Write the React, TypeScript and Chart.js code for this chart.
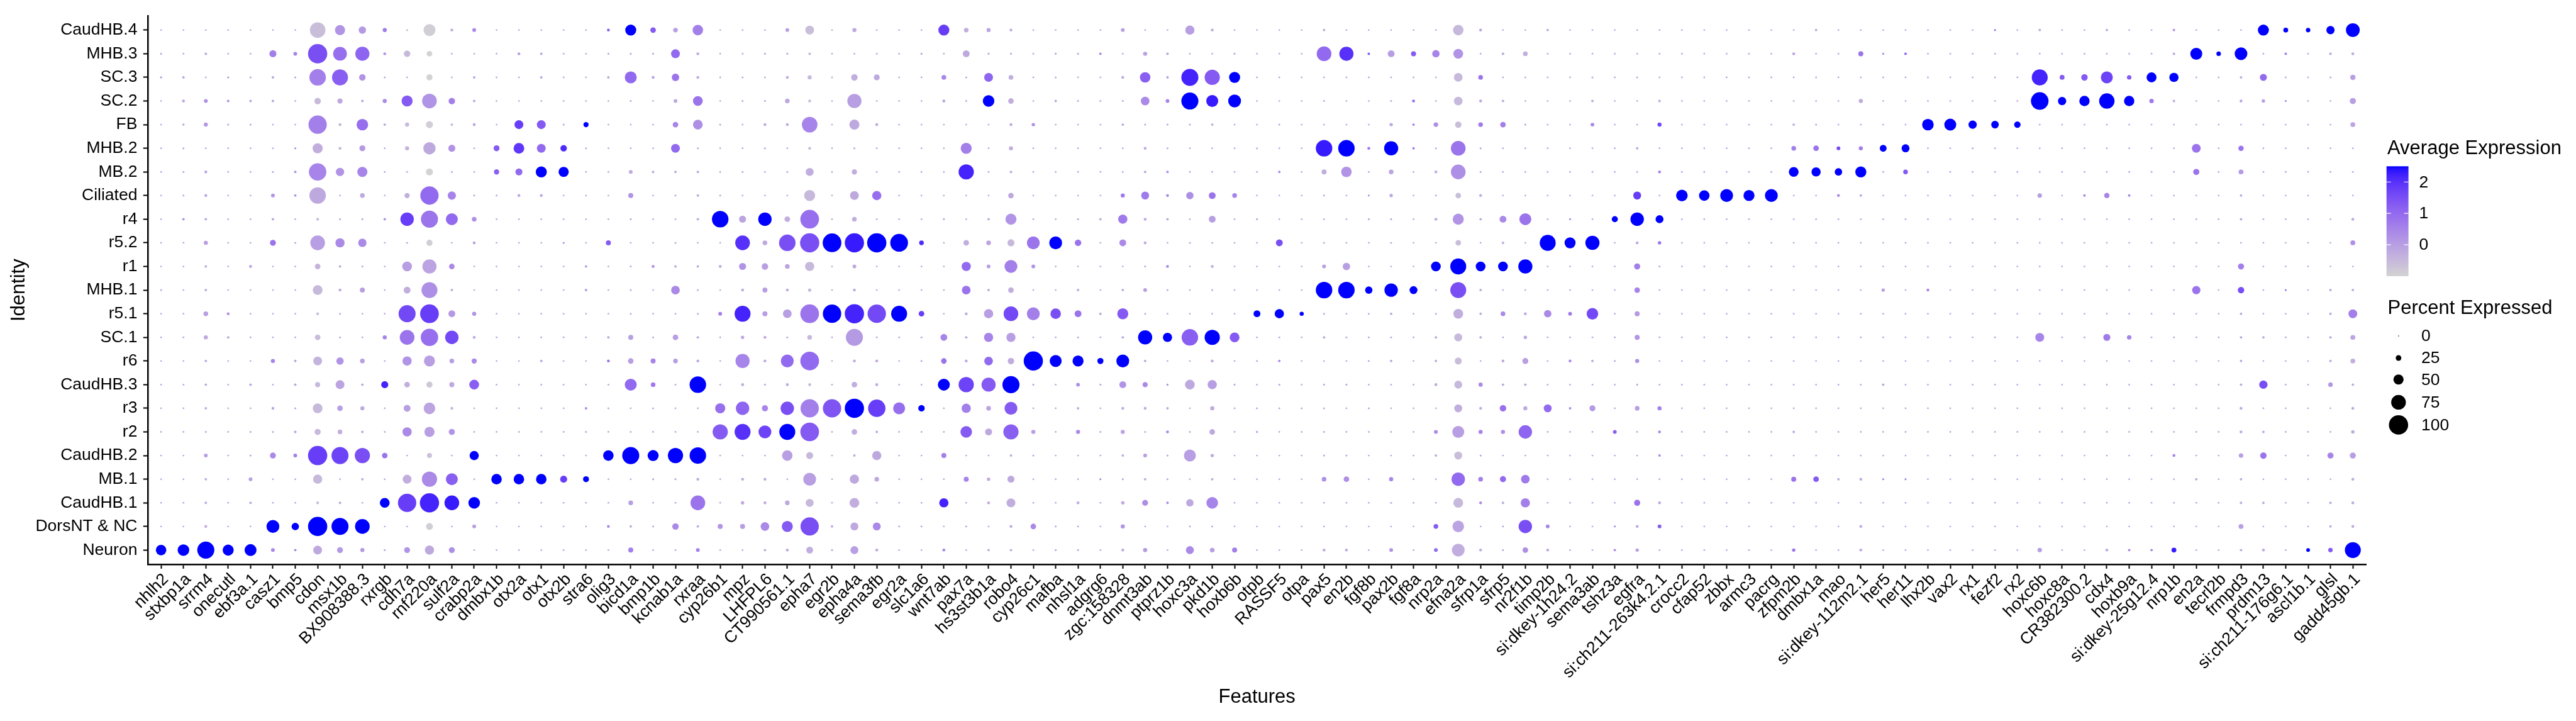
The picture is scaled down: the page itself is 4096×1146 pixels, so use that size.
import React, { useEffect, useRef } from "react";
import { Chart, registerables } from "chart.js";
Chart.register(...registerables);

// ---------------- DATA ----------------
const features = ["nhlh2","stxbp1a","srrm4","onecutl","ebf3a.1","casz1","bmp5","cdon","msx1b","BX908388.3","rxrgb","cdh7a","rnf220a","sulf2a","crabp2a","dmbx1b","otx2a","otx1","otx2b","stra6","olig3","bicd1a","bmp1b","kcnab1a","rxraa","cyp26b1","mpz","LHFPL6","CT990561.1","epha7","egr2b","epha4a","sema3fb","egr2a","slc1a6","wnt7ab","pax7a","hs3st3b1a","robo4","cyp26c1","mafba","nhsl1a","adgrg6","zgc:158328","dnmt3ab","ptprz1b","hoxc3a","pkd1b","hoxb6b","otpb","RASSF5","otpa","pax5","en2b","fgf8b","pax2b","fgf8a","nrp2a","efna2a","sfrp1a","sfrp5","nr2f1b","timp2b","si:dkey-1h24.2","sema3ab","tshz3a","egfra","si:ch211-263k4.2.1","crocc2","cfap52","zbbx","armc3","pacrg","zfpm2b","dmbx1a","mao","si:dkey-112m2.1","her5","her11","lhx2b","vax2","rx1","fezf2","rx2","hoxc6b","hoxc8a","CR382300.2","cdx4","hoxb9a","si:dkey-25g12.4","nrp1b","en2a","tecrl2b","frmpd3","prdm13","si:ch211-176g6.1","ascl1b.1","glsl","gadd45gb.1"];

// identities, top to bottom as displayed
const identities = ["CaudHB.4","MHB.3","SC.3","SC.2","FB","MHB.2","MB.2","Ciliated","r4","r5.2","r1","MHB.1","r5.1","SC.1","r6","CaudHB.3","r3","r2","CaudHB.2","MB.1","CaudHB.1","DorsNT & NC","Neuron"];

// Percent expressed per identity (99 features each)
const pctCaudHB4 = [4,4,4,4,4,4,4,80,50,35, 17,6,60,10,15,4,4,4,4,4, 10,55,25,20,52,4,4,4,15,43, 4,17,4,4,4,55,20,17,10,4, 4,4,4,15,4,4,45,10,4,4, 4,4,8,4,4,4,4,4,52,10, 4,4,8,4,4,4,4,4,4,4, 4,4,4,4,8,4,4,4,4,4, 4,4,5,4,8,4,4,8,4,4, 8,4,4,4,55,21,19,40,70];
const pctMHB3 = [5,4,8,4,4,33,15,100,70,72, 10,30,25,4,4,4,10,8,4,4, 5,5,5,43,10,4,4,5,5,8, 4,4,4,4,5,4,32,5,5,4, 5,5,8,4,17,8,4,4,5,4, 4,4,75,72,8,32,22,35,48,4, 8,20,4,4,4,4,4,4,4,4, 4,4,4,10,4,4,22,5,8,4, 4,4,4,4,4,4,4,4,4,4, 8,60,19,64,4,8,4,8,10];
const pctSC3 = [7,8,4,5,5,8,5,85,82,30, 5,4,28,4,8,4,4,8,4,4, 8,60,10,35,10,4,5,4,10,17, 4,30,27,4,4,20,5,43,20,4, 5,4,4,10,52,8,88,78,55,4, 4,4,4,4,4,4,4,4,42,20, 4,4,4,4,5,4,5,4,4,4, 4,4,4,4,4,4,4,4,4,4, 4,4,4,4,82,21,30,60,19,49, 45,4,4,8,33,4,4,5,24];
const pctSC2 = [4,10,15,8,8,8,4,30,23,8, 17,55,75,30,8,4,4,4,4,4, 4,5,4,15,48,4,5,5,20,10, 4,72,4,4,4,10,5,58,25,4, 8,5,5,5,42,15,88,60,65,4, 4,4,5,4,4,5,10,4,42,10, 8,4,4,4,8,4,4,8,4,4, 4,4,4,4,4,4,17,4,4,4, 4,4,4,4,91,40,51,79,51,19, 8,4,4,10,13,5,4,4,28];
const pctFB = [4,7,17,5,5,4,4,95,10,58, 8,17,33,8,10,4,43,43,5,23, 4,4,4,25,48,5,4,10,10,80, 4,50,10,4,4,4,4,4,10,13, 4,4,4,8,5,5,5,8,4,4, 5,4,4,4,4,13,8,20,30,20, 25,5,4,4,15,4,4,17,4,4, 4,4,4,8,5,4,4,4,4,58, 60,40,36,30,4,4,4,4,4,4, 4,4,4,4,4,4,4,4,21];
const pctMHB2 = [4,5,4,4,4,4,5,50,10,27, 4,17,62,33,4,27,53,43,30,5, 4,4,4,43,5,4,4,5,4,10, 4,5,4,4,4,4,55,4,17,4, 4,4,4,4,10,5,4,4,4,5, 4,4,85,85,10,72,8,5,75,5, 4,4,4,4,4,4,8,4,4,4, 4,4,4,20,25,15,17,32,38,4, 4,5,4,4,4,4,4,4,4,4, 4,43,4,24,4,4,4,4,4];
const pctMB2 = [4,5,10,4,4,5,8,90,40,50, 4,4,33,5,4,23,33,55,50,4, 4,15,8,8,8,4,5,4,5,38, 4,23,4,4,4,4,78,4,8,4, 4,4,4,4,8,8,4,4,4,4, 8,4,22,52,4,20,4,10,75,5, 4,4,4,4,4,4,4,10,4,4, 4,4,4,48,45,35,55,4,20,4, 4,4,4,4,4,4,4,4,4,4, 4,28,4,21,4,4,4,4,4];
const pctCiliated = [4,5,10,4,4,15,8,85,4,20, 4,23,95,40,5,5,10,10,4,4, 4,22,4,5,8,5,4,4,4,55, 4,43,45,4,4,4,4,4,25,4, 4,4,4,17,38,10,35,32,20,4, 4,4,5,4,5,13,4,5,25,10, 4,4,4,4,4,4,38,4,58,52, 65,55,65,4,4,10,8,4,4,4, 4,4,4,4,19,4,8,24,8,4, 4,4,4,8,4,4,4,4,4];
const pctR4 = [4,8,8,4,4,8,4,10,5,5, 8,68,88,60,20,4,4,4,4,4, 4,5,4,4,8,85,33,68,25,97, 4,20,4,4,4,5,4,8,55,4, 4,5,8,45,10,8,4,32,4,5, 4,4,4,4,5,5,4,10,55,8, 32,60,4,5,4,28,68,38,4,4, 4,4,4,4,4,4,4,4,4,4, 4,4,4,4,4,4,4,4,4,4, 4,4,4,8,4,4,4,4,10];
const pctR52 = [4,4,17,4,4,27,5,75,45,40, 4,5,28,4,10,4,4,4,5,4, 22,4,4,5,4,4,75,20,85,100, 97,100,100,92,20,4,25,20,33,65, 65,30,4,32,10,4,5,5,4,4, 32,4,5,4,4,5,4,4,25,4, 8,4,82,55,72,4,10,13,4,4, 4,4,4,4,4,4,4,4,4,4, 4,4,4,4,4,4,4,4,4,4, 4,4,4,4,4,4,4,4,21];
const pctR1 = [4,4,8,4,10,4,4,25,8,5, 4,48,72,25,4,4,4,4,4,8, 4,5,10,8,8,10,33,30,20,45, 4,15,4,4,4,4,45,15,65,15, 4,4,4,4,5,10,4,10,4,4, 4,4,15,35,4,4,4,48,82,48, 48,72,4,4,4,4,28,5,4,4, 4,4,4,4,4,4,4,4,4,4, 4,4,4,4,4,4,4,4,4,4, 4,4,4,28,4,4,4,4,4];
const pctMHB1 = [5,4,8,4,4,4,4,48,10,22, 4,32,82,8,4,4,4,4,4,8, 4,5,4,42,5,4,10,22,10,13, 4,10,4,4,4,4,42,8,25,4, 4,8,4,8,15,5,4,5,4,4, 4,4,85,85,35,68,38,5,82,8, 4,4,4,4,4,4,25,4,4,4, 4,4,4,4,4,4,4,13,4,10, 4,4,4,4,4,4,4,4,4,4, 4,40,4,30,4,5,4,8,8];
const pctR51 = [4,4,20,10,4,4,4,10,5,4, 4,88,97,32,17,4,4,4,4,4, 4,5,4,4,5,15,82,22,42,97, 95,100,95,82,25,4,10,45,75,65, 52,32,8,55,5,4,4,4,4,32, 45,17,5,4,5,8,4,5,48,8, 20,10,35,15,58,4,22,4,4,4, 4,4,4,4,4,4,4,4,4,4, 4,4,4,4,4,4,4,4,4,4, 4,4,4,8,4,4,4,8,43];
const pctSC1 = [4,4,17,8,4,4,4,25,5,4, 17,75,90,68,10,4,4,4,4,4, 8,22,5,25,8,4,13,10,5,20, 4,88,4,4,5,32,8,45,45,4, 4,5,4,8,72,45,85,78,48,4, 5,4,8,5,5,5,4,8,38,8, 4,13,4,4,4,4,22,4,4,4, 4,4,4,4,4,4,4,4,4,4, 4,4,4,4,43,4,5,33,19,4, 4,4,4,8,8,4,4,8,21];
const pctR6 = [4,4,8,4,4,17,8,43,35,20, 4,45,55,20,23,4,4,8,4,4, 10,25,22,20,10,4,72,10,65,97, 4,10,10,4,5,25,10,42,30,100, 60,55,28,65,8,4,4,10,4,5, 8,4,4,4,5,8,4,8,33,4, 10,27,4,10,8,5,17,4,4,4, 4,4,4,4,4,4,4,4,4,4, 4,4,4,4,4,4,4,4,4,4, 4,4,4,8,4,4,4,8,21];
const pctCaudHB3 = [4,4,8,4,8,4,8,22,43,8, 33,25,28,22,48,4,4,4,4,4, 4,60,20,4,85,4,10,5,10,10, 4,25,10,4,4,60,78,72,88,5, 4,15,5,32,23,5,48,45,5,4, 5,4,5,5,4,4,4,10,38,17, 8,8,4,4,4,4,5,4,4,4, 4,4,4,4,4,4,4,8,4,4, 4,4,4,4,4,4,4,4,4,4, 4,4,4,8,40,4,4,19,8];
const pctR3 = [4,4,8,4,4,10,5,48,25,17, 4,32,58,10,4,4,4,4,4,8, 5,4,5,4,4,50,68,28,68,95, 95,100,90,60,30,4,45,20,65,4, 4,8,4,10,10,8,4,17,4,5, 5,5,5,4,5,4,4,4,38,10, 30,17,38,8,27,4,20,17,4,4, 4,4,4,4,4,4,4,4,4,4, 4,4,4,4,4,4,4,4,4,4, 4,4,4,10,4,4,4,4,10];
const pctR2 = [4,4,5,4,5,5,8,28,20,8, 4,45,50,28,4,4,4,4,4,5, 4,4,4,4,4,78,82,65,82,97, 4,25,8,4,4,4,58,33,78,17, 4,17,5,17,5,10,5,25,4,5, 4,4,5,4,4,4,4,15,60,17, 17,68,4,4,4,15,4,10,4,4, 4,4,4,8,4,4,4,4,4,4, 4,4,4,4,4,4,4,4,4,4, 4,4,4,10,8,4,4,4,13];
const pctCaudHB2 = [4,4,15,4,5,27,15,100,88,78, 25,4,22,4,45,4,4,4,4,4, 52,88,55,78,85,4,4,4,52,33, 4,8,45,4,4,22,4,4,8,5, 4,4,4,8,15,5,60,13,4,4, 4,4,5,5,4,4,4,8,38,5, 4,4,4,4,4,4,4,8,4,4, 4,4,4,4,4,4,4,4,4,4, 4,4,4,4,4,4,4,4,4,4, 10,4,4,19,30,4,4,28,28];
const pctMB1 = [4,4,8,4,15,4,4,45,4,8, 4,43,78,60,4,52,52,52,33,27, 4,4,5,5,10,4,10,10,4,65, 4,45,20,4,4,4,22,13,33,4, 4,4,5,5,8,5,4,8,4,4, 4,4,20,25,4,17,4,4,68,20, 28,42,4,4,4,4,4,4,4,4, 4,4,4,22,25,8,10,5,5,4, 4,4,4,4,4,4,4,4,4,4, 4,8,4,8,4,4,4,4,10];
const pctCaudHB1 = [4,4,8,4,8,4,4,10,8,4, 48,95,100,75,58,4,4,4,4,4, 4,20,4,4,75,4,13,10,20,38, 4,48,4,4,4,45,4,10,43,4, 4,10,4,13,27,8,35,58,4,4, 4,4,4,4,4,5,4,4,48,10, 8,45,4,4,4,4,28,10,4,4, 4,4,4,4,4,4,4,4,4,4, 4,5,4,4,4,4,4,4,4,4, 4,4,4,8,8,4,4,8,10];
const pctDorsNT = [4,4,10,4,4,65,35,100,88,75, 4,4,32,4,15,4,4,4,4,4, 10,8,5,30,8,22,22,42,55,95, 8,38,38,5,5,4,5,4,10,25, 5,5,4,17,4,4,5,5,4,4, 4,4,4,4,4,4,4,20,58,4, 5,68,15,4,4,5,10,15,4,4, 4,4,4,4,4,4,10,4,4,4, 4,4,4,4,4,4,4,4,4,4, 4,4,4,21,4,4,4,8,10];
const pctNeuron = [52,58,88,55,60,15,8,43,27,17, 5,27,45,27,4,4,4,4,4,4, 4,22,4,4,15,4,4,8,10,32, 5,38,10,4,4,10,4,8,8,4, 5,5,4,10,17,4,38,20,22,4, 4,4,10,10,4,15,4,15,65,10, 5,25,10,4,4,8,13,4,4,4, 4,4,4,13,4,4,10,4,4,4, 4,4,4,4,19,4,4,10,8,8, 21,4,4,8,10,4,15,19,82];

// Average expression (scaled) per identity
const avgCaudHB4 = [-.2,-.2,-.2,-.2,-.2,-.2,-.2,-.6,.2,.1, .7,-.6,-.9,-.2,.5,-.2,-.2,-.2,-.2,-.2, 1.2,2.5,1.3,0,.6,-.2,-.2,-.2,0,-.6, -.2,-.2,-.2,-.2,-.2,1.8,-.3,-.1,-.2,-.2, -.2,-.2,-.2,0,-.2,-.2,0,-.2,-.2,-.2, -.2,-.2,-.2,-.2,-.2,-.2,-.2,-.2,-.5,-.1, -.2,-.2,-.2,-.2,-.2,-.2,-.2,-.2,-.2,-.2, -.2,-.2,-.2,-.2,-.2,-.2,-.2,-.2,-.2,-.2, -.2,-.2,1,-.2,-.2,-.2,-.2,-.2,-.2,-.2, .3,-.2,-.2,-.2,2.5,2.5,2.5,2.5,2.5];
const avgMHB3 = [-.2,-.2,-.1,-.2,-.2,.6,.5,1.5,.9,1.1, .2,-.5,-1,-.2,-.2,-.2,0,-.1,-.2,-.2, -.2,-.2,-.2,1,-.2,-.2,-.2,-.2,-.2,-.4, -.2,-.2,-.2,-.2,-.1,-.2,-.2,-.2,-.2,-.2, -.2,-.2,.4,-.2,-.1,-.1,-.2,-.2,-.2,-.2, -.2,-.2,1,2,1.3,0,1.3,.5,.2,-.2, -.1,-.3,-.2,-.2,-.2,-.2,-.2,-.2,-.2,-.2, -.2,-.2,-.2,-.1,-.2,-.2,.8,.5,1.2,-.2, -.2,-.2,-.2,-.2,-.2,-.2,-.2,-.2,-.2,-.2, -.1,2.5,2.5,2.5,-.2,.6,-.2,-.1,-.2];
const avgSC3 = [-.1,-.1,-.2,.3,-.1,-.1,-.1,.6,1.2,.2, -.2,-.3,-1,-.2,-.1,-.2,-.2,-.1,-.2,-.2, -.1,1,0,.8,-.2,-.2,-.2,-.2,-.2,-.5, -.2,-.3,-.2,-.2,-.2,.5,-.2,1.1,-.3,-.2, -.2,-.2,-.2,-.2,1.2,0,2.2,1.3,2.5,-.2, -.2,-.2,-.2,-.2,-.2,-.2,-.2,-.2,-.5,.8, -.2,-.2,-.2,-.2,-.2,-.2,-.2,-.2,-.2,-.2, -.2,-.2,-.2,-.2,-.2,-.2,-.2,-.2,-.2,-.2, -.2,-.2,-.2,-.2,2.2,1.3,1.3,1.7,1.3,2.5, 2.5,-.2,-.2,-.2,1,-.2,-.2,-.2,0];
const avgSC2 = [-.2,-.1,.3,.3,-.1,-.1,-.2,-.5,-.2,-.1, .4,1.3,.2,.6,-.1,-.2,-.2,-.2,-.2,-.2, -.2,-.2,-.2,-.2,.8,-.2,-.2,-.2,-.2,-.5, -.2,0,-.2,-.2,-.2,0,-.2,2.5,-.3,-.2, -.2,-.2,-.2,-.2,.4,.5,2.5,2.3,2.5,-.2, -.2,-.2,-.2,-.2,-.2,-.2,1,-.2,-.5,-.1, -.2,-.2,-.2,-.2,-.2,-.2,-.2,-.2,-.2,-.2, -.2,-.2,-.2,-.2,-.2,-.2,-.2,-.2,-.2,-.2, -.2,-.2,-.2,-.2,2.5,2.5,2.5,2.5,2.5,.7, -.2,-.2,-.2,-.1,0,.5,-.2,-.2,0];
const avgFB = [-.2,-.2,.1,-.1,-.2,-.2,-.2,.6,-.4,.9, -.1,-.5,-.9,-.3,-.1,-.2,1.8,1.3,-.2,2.5, -.2,-.2,-.2,.5,.3,-.2,-.2,-.2,-.2,.5, -.2,-.2,-.2,-.2,-.2,-.2,-.2,-.2,-.2,.3, -.2,-.2,-.2,-.1,-.2,-.2,-.2,-.2,-.2,-.2, -.2,-.2,-.2,-.2,-.2,-.2,.6,.3,-.6,.7, .6,-.2,-.2,-.2,.4,-.2,-.2,1.6,-.2,-.2, -.2,-.2,-.2,-.2,-.2,-.2,-.2,-.2,-.2,2.5, 2.5,2.5,2.5,2.5,-.2,-.2,-.2,-.2,-.2,-.2, -.2,-.2,-.2,-.2,-.2,-.2,-.2,-.2,-.1];
const avgMHB2 = [-.2,-.2,-.2,-.2,-.2,-.2,.4,-.3,-.4,.1, -.2,-.4,-.2,.2,-.2,1.3,1.9,1,2.1,-.2, -.2,-.2,-.2,1,-.2,-.2,-.2,-.2,-.2,-.5, -.2,-.2,-.2,-.2,-.2,-.2,.6,-.2,-.3,-.2, -.2,-.2,-.2,-.2,-.2,-.2,-.2,-.2,-.2,-.2, -.2,-.2,2.3,2.5,.8,2.5,.6,-.2,.8,-.2, -.2,-.2,-.2,-.2,-.2,-.2,-.2,-.2,-.2,-.2, -.2,-.2,-.2,.6,.8,1.6,.6,2.5,2.5,-.2, -.2,-.2,-.2,-.2,-.2,-.2,-.2,-.2,-.2,-.2, -.2,.8,-.2,.8,-.2,-.2,-.2,-.2,-.2];
const avgMB2 = [-.2,-.2,-.1,-.2,-.2,-.1,.2,.5,.2,.5, -.2,-.3,-1,-.2,-.2,1.2,1,2.5,2.5,-.2, -.2,-.2,-.2,-.2,-.2,-.2,-.2,-.2,-.2,-.3, -.2,-.3,-.2,-.2,-.2,-.2,2.2,-.2,-.2,-.2, -.2,-.2,-.2,-.2,-.2,.3,-.2,-.2,-.2,-.2, .3,-.2,-.3,.2,-.2,-.1,-.2,-.2,.3,-.2, -.2,-.2,-.2,-.2,-.2,-.2,-.2,.5,-.2,-.2, -.2,-.2,-.2,2.5,2.5,2.5,2.5,-.2,1.3,-.2, -.2,-.2,-.2,-.2,-.2,-.2,-.2,-.2,-.2,-.2, -.2,.8,-.2,.1,-.2,-.2,-.2,-.2,-.2];
const avgCiliated = [-.2,-.2,-.1,-.2,-.2,.2,.2,-.2,-.2,-.2, -.2,-.3,1,.5,-.2,-.2,-.1,-.1,-.2,-.2, -.2,.2,-.2,-.2,-.2,-.2,-.2,-.2,-.2,-.5, -.2,-.2,.9,-.2,-.2,-.2,-.2,-.2,-.2,-.2, -.2,-.2,-.2,.7,.7,.4,.3,.8,.5,-.2, -.2,-.2,-.2,-.2,.3,-.2,-.2,-.2,-.6,-.2, -.2,-.2,-.2,-.2,-.2,-.2,1.8,-.2,2.5,2.5, 2.5,2.5,2.5,-.2,-.2,.4,-.1,-.2,-.2,-.2, -.2,-.2,-.2,-.2,0,-.2,.5,.5,.5,-.2, -.2,-.2,-.2,-.2,-.2,-.2,-.2,-.2,-.2];
const avgR4 = [-.2,.2,-.1,-.2,-.2,-.1,-.2,-.6,-.2,-.2, .3,1.8,.8,1,.3,-.2,-.2,-.2,-.2,-.2, -.2,-.2,-.2,-.2,-.2,2.5,-.1,2.5,-.3,.9, -.2,-.3,-.2,-.2,-.2,-.2,-.2,-.2,.2,-.2, -.2,-.2,-.2,.7,-.2,-.2,-.2,0,-.2,-.2, -.2,-.2,-.2,-.2,-.2,-.2,-.2,-.2,.2,-.2, .4,.8,-.2,.4,-.2,2.5,2.5,2.5,-.2,-.2, -.2,-.2,-.2,-.2,-.2,-.2,-.2,-.2,-.2,-.2, -.2,-.2,-.2,-.2,-.2,-.2,-.2,-.2,-.2,-.2, -.2,-.2,-.2,-.2,-.2,-.2,-.2,-.2,-.2];
const avgR52 = [-.2,-.2,0,-.2,-.2,.8,-.2,0,.4,.4, -.2,-.2,-.9,-.2,0,-.2,-.2,-.2,.4,-.2, 1.3,-.2,-.2,-.2,-.2,-.2,2,-.2,1.5,1.5, 2.5,2.3,2.5,2.5,2.1,-.2,-.3,-.1,-.5,.8, 2.5,.8,-.2,.4,-.2,-.2,-.2,-.2,-.2,-.2, 1.5,-.2,-.2,-.2,-.2,-.2,-.2,-.2,-.6,-.2, -.2,-.2,2.5,2.5,2.5,-.2,-.2,.8,-.2,-.2, -.2,-.2,-.2,-.2,-.2,-.2,-.2,-.2,-.2,-.2, -.2,-.2,-.2,-.2,-.2,-.2,-.2,-.2,-.2,-.2, -.2,-.2,-.2,-.2,-.2,-.2,-.2,-.2,.3];
const avgR1 = [-.2,-.2,-.2,-.2,0,-.2,-.2,-.4,-.2,-.2, -.2,0,-.1,.4,-.2,-.2,-.2,-.2,-.2,0, -.2,-.2,.4,-.2,-.2,-.2,.2,0,-.1,-.5, -.2,-.2,-.2,-.2,-.2,-.2,1,0,.6,.2, -.2,-.2,-.2,-.2,-.2,.4,-.2,-.2,-.2,-.2, -.2,-.2,0,0,-.2,-.2,-.2,2.5,2.5,2.5, 2.5,2.5,-.2,-.2,-.2,-.2,.6,-.2,-.2,-.2, -.2,-.2,-.2,-.2,-.2,-.2,-.2,-.2,-.2,-.2, -.2,-.2,-.2,-.2,-.2,-.2,-.2,-.2,-.2,-.2, -.2,-.2,-.2,.6,-.2,-.2,-.2,-.2,-.2];
const avgMHB1 = [-.2,-.2,-.2,-.2,-.2,-.2,-.2,-.5,-.2,0, -.2,-.3,.3,-.2,-.2,-.2,-.2,-.2,-.2,.1, -.2,-.2,-.2,.4,-.2,-.2,-.2,0,-.2,-.5, -.2,-.2,-.2,-.2,-.2,-.2,.8,-.2,-.3,-.2, -.2,-.2,-.2,-.2,0,-.2,-.2,-.2,-.2,-.2, -.2,-.2,2.5,2.5,2.5,2.5,2.5,-.2,1.5,-.2, -.2,-.2,-.2,-.2,-.2,-.2,.5,-.2,-.2,-.2, -.2,-.2,-.2,-.2,-.2,-.2,-.2,0,-.2,.5, -.2,-.2,-.2,-.2,-.2,-.2,-.2,-.2,-.2,-.2, -.2,.8,-.2,1.5,-.2,.8,-.2,-.2,-.2];
const avgR51 = [-.2,-.2,0,.3,-.2,-.2,-.2,-.6,-.2,-.2, -.2,1.6,1.8,.1,.2,-.2,-.2,-.2,-.2,-.2, -.2,-.2,-.2,-.2,-.2,.6,2.2,0,0,.8, 2.5,2.2,1.6,2.5,1.8,-.2,-.2,0,1.6,.6, 1.5,.8,-.2,1.3,-.2,-.2,-.2,-.2,-.2,2.5, 2.5,2.5,-.2,-.2,-.2,-.2,-.2,-.2,-.3,-.2, .4,-.2,.4,.7,1.6,-.2,.1,-.2,-.2,-.2, -.2,-.2,-.2,-.2,-.2,-.2,-.2,-.2,-.2,-.2, -.2,-.2,-.2,-.2,-.2,-.2,-.2,-.2,-.2,-.2, -.2,-.2,-.2,-.2,-.2,-.2,-.2,-.2,.6];
const avgSC1 = [-.2,-.2,-.2,-.2,-.2,-.2,-.2,-.6,-.2,-.2, .5,.8,.9,1.6,-.2,-.2,-.2,-.2,-.2,-.2, -.2,0,-.2,0,-.2,-.2,-.2,-.2,-.2,-.5, -.2,.1,-.2,-.2,-.2,.5,-.2,.5,0,-.2, -.2,-.2,-.2,-.2,2.5,2.5,1.2,2.5,1.3,-.2, -.2,-.2,-.2,-.2,-.2,-.2,-.2,-.2,-.5,-.2, -.2,-.2,-.2,-.2,-.2,-.2,.2,-.2,-.2,-.2, -.2,-.2,-.2,-.2,-.2,-.2,-.2,-.2,-.2,-.2, -.2,-.2,-.2,-.2,.5,-.2,-.2,.7,.5,-.2, -.2,-.2,-.2,-.2,-.2,-.2,-.2,-.2,-.1];
const avgR6 = [-.2,-.2,-.2,-.2,-.2,.5,-.1,-.4,.2,0, -.2,.2,0,0,.4,-.2,-.2,-.1,-.2,-.2, .8,0,.5,0,-.2,-.2,.5,-.2,1,1, -.2,-.2,-.2,-.2,-.2,.8,-.2,1,-.3,2.5, 2.5,2.5,2.5,2.5,-.2,-.2,-.2,-.2,-.2,-.2, .4,-.2,-.2,-.2,-.2,-.2,-.2,-.2,-.6,-.2, -.2,0,-.2,.4,-.2,-.2,.3,-.2,-.2,-.2, -.2,-.2,-.2,-.2,-.2,-.2,-.2,-.2,-.2,-.2, -.2,-.2,-.2,-.2,-.2,-.2,-.2,-.2,-.2,-.2, -.2,-.2,-.2,-.2,-.2,-.2,-.2,-.2,-.3];
const avgCaudHB3 = [-.2,-.2,-.2,-.2,-.1,-.2,-.1,-.5,-.1,-.2, 2.2,-.3,-.8,-.2,1.2,-.2,-.2,-.2,-.2,-.2, -.2,1,.7,-.2,2.5,-.2,-.2,-.2,-.2,-.5, -.2,-.3,-.2,-.2,-.2,2.5,1.7,1.3,2.5,-.2, -.2,.3,-.2,.2,.4,.4,-.2,0,-.2,-.2, -.2,-.2,-.2,-.2,-.2,-.2,-.2,-.2,-.5,.4, -.2,-.2,-.2,-.2,-.2,-.2,-.2,-.2,-.2,-.2, -.2,-.2,-.2,-.2,-.2,-.2,-.2,-.2,-.2,-.2, -.2,-.2,-.2,-.2,-.2,-.2,-.2,-.2,-.2,-.2, -.2,-.2,-.2,-.2,1.5,-.2,-.2,.2,-.2];
const avgR3 = [-.2,-.2,-.2,-.2,-.2,-.1,-.2,-.5,0,-.2, -.2,0,-.1,-.4,-.2,-.2,-.2,-.2,-.2,.4, -.2,-.2,-.2,-.2,-.2,.9,1.1,.5,1.5,.6, 1.4,2.5,1.8,.9,2.5,-.2,.6,-.1,1.3,-.2, -.2,-.2,-.2,-.2,-.2,-.2,-.2,-.2,-.2,-.2, -.2,-.2,-.2,-.2,-.2,-.2,-.2,-.2,-.3,-.2, .9,-.2,1,.4,.1,-.2,0,.6,-.2,-.2, -.2,-.2,-.2,-.2,-.2,-.2,-.2,-.2,-.2,-.2, -.2,-.2,-.2,-.2,-.2,-.2,-.2,-.2,-.2,-.2, -.2,-.2,-.2,-.2,-.2,-.2,-.2,-.2,-.2];
const avgR2 = [-.2,-.2,-.2,-.2,-.2,-.2,-.1,-.5,-.3,-.2, -.2,.4,0,.2,-.2,-.2,-.2,-.2,-.2,-.1, -.2,-.2,-.2,-.2,-.2,1.3,2,1.7,2.5,1.3, -.2,-.3,-.2,-.2,-.2,-.2,1.3,-.2,1.2,0, -.2,.4,-.2,-.1,-.2,.4,-.2,-.2,-.2,.3, -.2,-.2,-.2,-.2,-.2,-.2,-.2,.4,0,.5, .3,1.1,-.2,-.2,-.2,1.2,-.2,.4,-.2,-.2, -.2,-.2,-.2,-.2,-.2,-.2,-.2,-.2,-.2,-.2, -.2,-.2,-.2,-.2,-.2,-.2,-.2,-.2,-.2,-.2, -.2,-.2,-.2,-.2,-.2,-.2,-.2,-.2,-.2];
const avgCaudHB2 = [-.2,-.2,0,-.2,-.2,.4,.6,1.8,1.7,1.5, .8,-.2,-.7,-.2,2.5,-.2,-.2,-.2,-.2,-.2, 2.5,2.5,2.5,2.5,2.5,-.2,-.2,-.2,0,-.5, -.2,-.2,-.2,-.2,-.2,.6,-.2,-.2,-.2,-.2, -.2,-.2,-.2,-.2,0,-.2,0,-.2,-.2,-.2, -.2,-.2,-.2,-.2,-.2,-.2,-.2,-.2,-.6,-.2, -.2,-.2,-.2,-.2,-.2,-.2,-.2,.4,-.2,-.2, -.2,-.2,-.2,-.2,-.2,-.2,-.2,-.2,-.2,-.2, -.2,-.2,-.2,-.2,-.2,-.2,-.2,-.2,-.2,-.2, .6,-.2,-.2,0,.8,-.2,-.2,.5,0];
const avgMB1 = [-.2,-.2,-.2,-.2,0,-.2,-.2,-.5,-.2,-.2, -.2,-.3,.4,1.2,-.2,2.5,2.5,2.5,1.8,2.5, -.2,-.2,-.2,-.2,-.2,-.2,-.2,-.2,-.2,0, -.2,-.2,-.2,-.2,-.2,-.2,.5,-.2,-.2,-.2, -.2,-.2,.4,-.2,-.2,-.2,-.2,-.2,-.2,-.2, -.2,-.2,.3,.3,-.2,.5,-.2,-.2,1,.6, 1,.7,-.2,-.2,-.2,-.2,-.2,-.2,-.2,-.2, -.2,-.2,-.2,.8,1.3,-.2,-.2,.5,.5,-.2, -.2,-.2,-.2,-.2,-.2,-.2,-.2,-.2,-.2,-.2, -.2,-.2,-.2,-.2,-.2,-.2,-.2,-.2,-.2];
const avgCaudHB1 = [-.2,-.2,-.2,-.2,-.2,-.2,-.2,-.6,-.2,-.2, 2.5,1.8,2.2,2.3,2.5,-.2,-.2,-.2,-.2,-.2, -.2,0,-.2,-.2,.8,-.2,-.2,-.2,-.2,-.5, -.2,-.3,-.2,-.2,-.2,2.2,-.2,-.2,-.3,-.2, -.2,-.2,-.2,-.2,.3,.4,-.2,.5,-.2,-.2, -.2,-.2,-.2,-.2,-.2,-.2,-.2,-.2,-.5,.4, -.2,.6,-.2,-.2,-.2,-.2,.8,-.2,-.2,-.2, -.2,-.2,-.2,-.2,-.2,-.2,-.2,-.2,-.2,-.2, -.2,-.2,-.2,-.2,-.2,-.2,-.2,-.2,-.2,-.2, -.2,-.2,-.2,-.2,-.2,-.2,-.2,-.2,-.2];
const avgDorsNT = [-.2,-.2,-.2,-.2,-.2,2.5,2.5,2.5,2.5,2.5, -.2,-.2,-.9,-.2,0,-.2,-.2,-.2,-.2,-.2, .4,-.2,-.2,.4,-.2,.2,0,.4,1.3,1.5, -.2,-.2,.4,-.2,-.2,-.2,-.2,-.2,-.2,.4, -.2,-.2,-.2,.2,-.2,-.2,-.2,-.2,-.2,-.2, -.2,-.2,-.2,-.2,-.2,-.2,-.2,1.3,-.1,-.2, -.2,1.5,.5,-.2,-.2,.5,-.2,1.3,-.2,-.2, -.2,-.2,-.2,-.2,-.2,-.2,-.2,-.2,-.2,-.2, -.2,-.2,-.2,-.2,-.2,-.2,-.2,-.2,-.2,-.2, -.2,-.2,-.2,0,-.2,-.2,-.2,-.2,-.2];
const avgNeuron = [2.5,2.5,2.5,2.5,2.5,.4,.4,-.2,.1,.1, -.2,.2,-.2,.3,-.2,-.2,-.2,-.2,-.2,-.2, -.2,.6,-.2,-.2,.6,-.2,-.2,-.2,-.2,-.3, -.2,0,-.2,-.2,-.2,.5,-.2,-.2,-.2,-.2, -.2,-.2,-.2,-.2,.1,-.2,.4,0,.6,-.2, -.2,-.2,-.2,-.2,-.2,.2,-.2,1,-.3,-.2, -.2,.3,-.2,-.2,-.2,.4,0,-.2,-.2,-.2, -.2,-.2,-.2,.8,-.2,-.2,-.2,-.2,-.2,-.2, -.2,-.2,-.2,-.2,0,-.2,-.2,-.2,.5,.5, 2.3,-.2,-.2,-.2,-.2,-.2,2.5,1.3,2.5];

const pctRows = [pctCaudHB4,pctMHB3,pctSC3,pctSC2,pctFB,pctMHB2,pctMB2,pctCiliated,pctR4,pctR52,pctR1,pctMHB1,pctR51,pctSC1,pctR6,pctCaudHB3,pctR3,pctR2,pctCaudHB2,pctMB1,pctCaudHB1,pctDorsNT,pctNeuron];
const avgRows = [avgCaudHB4,avgMHB3,avgSC3,avgSC2,avgFB,avgMHB2,avgMB2,avgCiliated,avgR4,avgR52,avgR1,avgMHB1,avgR51,avgSC1,avgR6,avgCaudHB3,avgR3,avgR2,avgCaudHB2,avgMB1,avgCaudHB1,avgDorsNT,avgNeuron];

const colorBreaks = [0, 1, 2];
const sizeBreaks = [0, 25, 50, 75, 100];

// ---------------- STYLE ----------------
const W = 4096, H = 1146;
const S = 0.546;
const FONT = '"Liberation Sans", Arial, Helvetica, sans-serif';
const TICK_FONT = 26.5;
const TITLE_FONT = 31;

const LOW = [211, 211, 211];
const HIGH = [0, 0, 255];

function toLin(c: number) { c /= 255; return c <= 0.04045 ? c / 12.92 : Math.pow((c + 0.055) / 1.055, 2.4); }
function fromLin(c: number) { const v = c <= 0.0031308 ? 12.92 * c : 1.055 * Math.pow(c, 1 / 2.4) - 0.055; return Math.round(Math.max(0, Math.min(1, v)) * 255); }
function rgbToLab(rgb: number[]) {
  const R = toLin(rgb[0]), G = toLin(rgb[1]), B = toLin(rgb[2]);
  const X = (0.4124564 * R + 0.3575761 * G + 0.1804375 * B) / 0.95047;
  const Y = 0.2126729 * R + 0.7151522 * G + 0.072175 * B;
  const Z = (0.0193339 * R + 0.119192 * G + 0.9503041 * B) / 1.08883;
  const f = (t: number) => (t > 0.008856 ? Math.cbrt(t) : 7.787 * t + 16 / 116);
  const fx = f(X), fy = f(Y), fz = f(Z);
  return [116 * fy - 16, 500 * (fx - fy), 200 * (fy - fz)];
}
function labToRgb(lab: number[]) {
  const fy = (lab[0] + 16) / 116, fx = fy + lab[1] / 500, fz = fy - lab[2] / 200;
  const inv = (t: number) => (t * t * t > 0.008856 ? t * t * t : (t - 16 / 116) / 7.787);
  const X = inv(fx) * 0.95047, Y = inv(fy), Z = inv(fz) * 1.08883;
  const R = 3.2404542 * X - 1.5371385 * Y - 0.4985314 * Z;
  const G = -0.969266 * X + 1.8760108 * Y + 0.041556 * Z;
  const B = 0.0556434 * X - 0.2040259 * Y + 1.0572252 * Z;
  return [fromLin(R), fromLin(G), fromLin(B)];
}
const LAB_LOW = rgbToLab(LOW), LAB_HIGH = rgbToLab(HIGH);
function colorAt(t: number) {
  t = Math.max(0, Math.min(1, t));
  const lab = [0, 1, 2].map((i) => LAB_LOW[i] + (LAB_HIGH[i] - LAB_LOW[i]) * t);
  const c = labToRgb(lab);
  return `rgb(${c[0]},${c[1]},${c[2]})`;
}
const allAvg = avgRows.flat();
const AVG_MIN = Math.min(...allAvg);
const AVG_MAX = Math.max(...allAvg);
const colorOf = (v: number) => colorAt((v - AVG_MIN) / (AVG_MAX - AVG_MIN));
const radiusOf = (p: number) => ((3 + 0.53 * p) * S) / 2;

// layout (canvas px)
const PANEL_LEFT = 234.8, PANEL_RIGHT = 3762.5, PANEL_TOP = 15.7, PANEL_BOTTOM = 896.9;

const legendPlugin = {
  id: "dotLegend",
  beforeDraw(chart: any) {
    const ctx = chart.ctx;
    ctx.save();
    ctx.fillStyle = "#fff";
    ctx.fillRect(0, 0, W, H);
    ctx.restore();
  },
  afterDraw(chart: any) {
    const ctx = chart.ctx;
    ctx.save();
    ctx.fillStyle = "#000";
    ctx.textAlign = "left";
    ctx.textBaseline = "alphabetic";
    ctx.font = `${TITLE_FONT}px ${FONT}`;
    ctx.fillText("Average Expression", 3796, 245.4);
    // colour bar
    const bx = 3794.7, bw = 34.9, bt = 264.3, bb = 439;
    const g = ctx.createLinearGradient(0, bb, 0, bt);
    for (let i = 0; i <= 40; i++) g.addColorStop(i / 40, colorAt(i / 40));
    ctx.fillStyle = g;
    ctx.fillRect(bx, bt, bw, bb - bt);
    ctx.font = `${TICK_FONT}px ${FONT}`;
    ctx.textBaseline = "middle";
    for (const v of colorBreaks) {
      const y = bb - ((v - AVG_MIN) / (AVG_MAX - AVG_MIN)) * (bb - bt);
      ctx.strokeStyle = "#fff";
      ctx.lineWidth = 1.2;
      ctx.beginPath();
      ctx.moveTo(bx, y); ctx.lineTo(bx + bw / 5, y);
      ctx.moveTo(bx + bw - bw / 5, y); ctx.lineTo(bx + bw, y);
      ctx.stroke();
      ctx.fillStyle = "#000";
      ctx.fillText(String(v), 3846.6, y + 1);
    }
    // size legend
    ctx.textBaseline = "alphabetic";
    ctx.font = `${TITLE_FONT}px ${FONT}`;
    ctx.fillText("Percent Expressed", 3796.5, 499);
    const ys = [534, 569, 603.3, 639.4, 675.4];
    ctx.font = `${TICK_FONT}px ${FONT}`;
    ctx.textBaseline = "middle";
    sizeBreaks.forEach((p, i) => {
      ctx.fillStyle = "#000";
      ctx.beginPath();
      ctx.arc(3813.8, ys[i], radiusOf(p), 0, Math.PI * 2);
      ctx.fill();
      ctx.fillText(String(p), 3850, ys[i] + 1);
    });
    ctx.restore();
  },
};

export default function App() {
  const ref = useRef<HTMLCanvasElement>(null);
  useEffect(() => {
    const nRows = identities.length;
    const points: any[] = [];
    identities.forEach((id, r) => {
      features.forEach((f, c) => {
        points.push({ x: c, y: nRows - 1 - r, pct: pctRows[r][c], avg: avgRows[r][c] });
      });
    });
    const yLabels = identities.slice().reverse();
    const chart = new Chart(ref.current as HTMLCanvasElement, {
      type: "scatter",
      data: {
        datasets: [
          {
            data: points,
            pointRadius: (c: any) => radiusOf(c.raw ? c.raw.pct : 0),
            pointHoverRadius: (c: any) => radiusOf(c.raw ? c.raw.pct : 0),
            pointBackgroundColor: (c: any) => colorOf(c.raw ? c.raw.avg : 0),
            pointBorderWidth: 0,
            pointBorderColor: "rgba(0,0,0,0)",
          } as any,
        ],
      },
      options: {
        animation: false,
        responsive: false,
        devicePixelRatio: 1,
        events: [],
        layout: { padding: { left: 0, top: PANEL_TOP, right: W - PANEL_RIGHT, bottom: 0 } },
        plugins: { legend: { display: false }, tooltip: { enabled: false } },
        scales: {
          x: {
            type: "linear",
            min: -0.6,
            max: features.length - 1 + 0.6,
            afterBuildTicks: (s: any) => { s.ticks = features.map((_, i) => ({ value: i })); },
            afterFit: (s: any) => { s.height = H - PANEL_BOTTOM; },
            ticks: {
              autoSkip: false,
              minRotation: 45,
              maxRotation: 45,
              padding: 1.5,
              labelOffset: 7.7,
              color: "#000",
              font: { size: TICK_FONT, family: FONT },
              callback: (v: any) => features[v as number],
            },
            grid: { display: true, drawOnChartArea: false, drawTicks: true, tickLength: 7, tickWidth: 2, tickColor: "#000", color: "#000" },
            border: { display: true, color: "#000", width: 2.5 },
            title: { display: true, text: "Features", color: "#000", font: { size: TITLE_FONT, family: FONT }, padding: { top: 0, bottom: 19.4 } },
          },
          y: {
            type: "linear",
            min: -0.6,
            max: identities.length - 1 + 0.6,
            afterBuildTicks: (s: any) => { s.ticks = yLabels.map((_, i) => ({ value: i })); },
            afterFit: (s: any) => { s.width = PANEL_LEFT; },
            ticks: {
              autoSkip: false,
              padding: 9.4,
              color: "#000",
              font: { size: TICK_FONT, family: FONT },
              callback: (v: any) => yLabels[v as number],
            },
            grid: { display: true, drawOnChartArea: false, drawTicks: true, tickLength: 7, tickWidth: 2, tickColor: "#000", color: "#000" },
            border: { display: true, color: "#000", width: 2.5 },
            title: { display: true, text: "Identity", color: "#000", font: { size: TITLE_FONT, family: FONT }, padding: { top: 12, bottom: 0 } },
          },
        },
      } as any,
      plugins: [legendPlugin],
    });
    return () => chart.destroy();
  }, []);
  return (
    <div style={{ position: "fixed", left: 0, top: 0, width: W, height: H, background: "#fff" }}>
      <canvas ref={ref} width={W} height={H} style={{ display: "block", width: W, height: H }} />
    </div>
  );
}
